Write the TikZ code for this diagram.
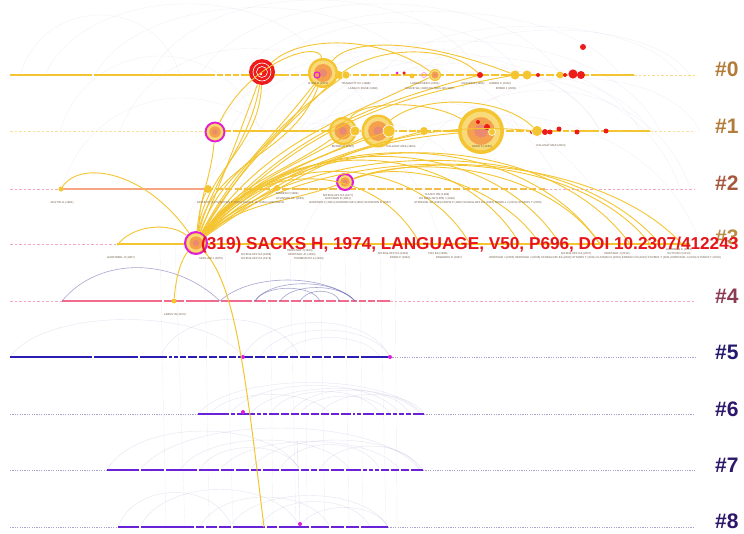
\documentclass[tikz,border=0pt]{standalone}
\usepackage{fontspec}
\setmainfont{Liberation Sans}
\definecolor{gold}{HTML}{F4C531}
\definecolor{goldL}{HTML}{F8DA78}
\definecolor{nodeO}{HTML}{F5A04C}
\definecolor{nodeP}{HTML}{EA8A72}
\definecolor{salm}{HTML}{F6A585}
\definecolor{pinkL}{HTML}{F26B8E}
\definecolor{pinkD}{HTML}{F4A8BA}
\definecolor{blueL}{HTML}{2B1DB3}
\definecolor{purpL}{HTML}{6A22D8}
\definecolor{dotL}{HTML}{A9A2CC}
\definecolor{mag}{HTML}{E11BDA}
\definecolor{redN}{HTML}{EE1B1B}
\definecolor{faintP}{HTML}{C2A6D8}
\definecolor{faintB}{HTML}{6A6AB4}
\definecolor{labA}{HTML}{B27B37}
\definecolor{labB}{HTML}{A6583C}
\definecolor{labC}{HTML}{B88C42}
\definecolor{labD}{HTML}{8D3B53}
\definecolor{labE}{HTML}{22196E}
\definecolor{labF}{HTML}{2D1669}
\definecolor{tinyC}{HTML}{6F5B48}
\definecolor{sacksR}{HTML}{E8141B}
\tikzset{
  tl/.style={line width=2.6pt},
  tlthin/.style={line width=0.7pt, dash pattern=on 2.5pt off 2pt},
  tldot/.style={line width=0.8pt, draw=dotL, dash pattern=on 1.2pt off 1.2pt},
  clab/.style={font=\fontsize{21}{21}\selectfont\bfseries, anchor=west, inner sep=0pt},
  tinyl/.style={font=\fontsize{2.8}{3.2}\selectfont, text=tinyC, inner sep=0pt},
  cite/.style={circle, inner sep=0pt, fill=gold, minimum size=#1, path picture={
      \fill[goldL] (path picture bounding box.center) circle ({0.42*#1});
      \fill[nodeO] (path picture bounding box.center) circle ({0.3*#1});
      \fill[nodeP] (path picture bounding box.center) circle ({0.14*#1});}},
  dotn/.style={circle, inner sep=0pt, fill=gold, minimum size=#1},
  redn/.style={circle, inner sep=0pt, fill=redN, minimum size=#1},
  magn/.style={circle, inner sep=0pt, fill=mag, minimum size=#1},
  ya/.style={draw=gold, line width=0.9pt},
  fa/.style={draw=faintP, line width=0.4pt, opacity=0.16},
  fb/.style={draw=faintB, line width=0.45pt, opacity=0.16},
  fb4/.style={draw=faintB, line width=0.6pt, opacity=0.6},
  gap/.style={fill=white},
}
\begin{document}
\begin{tikzpicture}[x=1pt,y=-1pt]
\fill[white] (0,0) rectangle (744,533);
\useasboundingbox (0,0) rectangle (744,533);

% ---------- faint background arcs (upper) ----------
\foreach \a/\b/\y/\h in {45/330/75/95, 95/420/75/90, 150/480/75/100, 200/560/75/95, 240/620/75/85,
  260/660/131/120, 215/600/131/110, 300/640/131/100, 330/680/188/150, 280/560/188/120,
  230/520/131/95, 120/380/131/110, 62/300/188/120, 250/470/188/90, 350/650/131/80,
  400/690/188/130, 180/440/243/160, 210/620/243/190, 300/700/243/170, 420/690/75/60,
  460/700/131/70, 60/260/131/100, 20/180/75/80, 270/520/75/70, 320/600/131/90, 380/680/75/65}{
  \draw[fa] (\a,\y) .. controls ({\a+(\b-\a)*0.15},{\y-\h}) and ({\b-(\b-\a)*0.15},{\y-\h}) .. (\b,\y);
}
% ---------- faint background arcs (lower) ----------
\foreach \a/\b/\y/\h in {10/243/357/50, 160/300/357/50, 243/390/357/46, 260/390/357/36, 280/380/357/26,
  198/422/414/42, 230/400/414/38, 250/420/414/34, 270/380/414/30, 290/410/414/32, 210/330/414/26, 300/390/414/24, 320/424/414/26,
  107/300/470/52, 140/420/470/56, 180/350/470/40, 220/400/470/38, 250/423/470/40, 200/300/470/30, 280/380/470/34, 320/420/470/32,
  118/232/527/46, 140/300/527/50, 200/330/527/40, 230/388/527/42, 260/370/527/34, 300/388/527/26}{
  \draw[fb] (\a,\y) .. controls ({\a+(\b-\a)*0.15},{\y-\h}) and ({\b-(\b-\a)*0.15},{\y-\h}) .. (\b,\y);
}
\foreach \x/\d in {160/6, 175/10, 205/4, 225/8, 270/3, 290/6, 305/2, 320/5, 345/4, 360/3, 380/6, 395/2}{
  \draw[fa] (\x,245) -- (\x+\d,527);
}

% ---------- timeline coordinates ----------
\coordinate (a0) at (10,75);  \coordinate (b0) at (634,75);  \coordinate (c0) at (695,75);
\coordinate (a1) at (10,131); \coordinate (m1) at (205,131); \coordinate (b1) at (650,131); \coordinate (c1) at (695,131);
\coordinate (a2) at (10,189); \coordinate (m2) at (61,189);  \coordinate (k2) at (206,189); \coordinate (b2) at (545,189); \coordinate (c2) at (695,189);
\coordinate (a3) at (10,244); \coordinate (m3) at (118,244); \coordinate (b3) at (690,244);
\coordinate (a4) at (10,301); \coordinate (m4) at (62,301);  \coordinate (b4) at (390,301); \coordinate (c4) at (695,301);
\coordinate (a5) at (10,357); \coordinate (b5) at (390,357); \coordinate (c5) at (695,357);
\coordinate (a6) at (10,414); \coordinate (m6) at (198,414); \coordinate (b6) at (424,414); \coordinate (c6) at (695,414);
\coordinate (a7) at (10,470); \coordinate (m7) at (107,470); \coordinate (b7) at (423,470); \coordinate (c7) at (695,470);
\coordinate (a8) at (10,527); \coordinate (m8) at (118,527); \coordinate (b8) at (388,527); \coordinate (c8) at (695,527);

% ---------- timelines ----------
\draw[tl, draw=gold, line width=2.8pt] (a0) -- (b0);
\draw[tlthin, draw=gold, opacity=0.6] (b0) -- (c0);
\draw[tlthin, draw=gold, opacity=0.5] (a1) -- (m1);
\draw[tl, draw=gold, line width=2.8pt] (m1) -- (b1);
\draw[tlthin, draw=gold, opacity=0.5] (b1) -- (c1);
\draw[tlthin, draw=pinkD] (a2) -- (m2);
\draw[tl, draw=salm] (m2) -- (k2);
\draw[tl, draw=gold!70!salm, dash pattern=on 7pt off 2.5pt] (k2) -- (b2);
\draw[tlthin, draw=pinkD] (b2) -- (c2);
\draw[tlthin, draw=pinkD] (a3) -- (m3);
\draw[tl, draw=gold] (m3) -- (b3);
\draw[tlthin, draw=pinkD] (a4) -- (m4);
\draw[tl, draw=pinkL] (m4) -- (b4);
\draw[tlthin, draw=pinkD] (b4) -- (c4);
\draw[tl, draw=blueL, line width=2.8pt] (a5) -- (b5);
\draw[tldot] (b5) -- (c5);
\draw[tldot] (a6) -- (m6);
\draw[tl, draw=purpL] (m6) -- (b6);
\draw[tldot] (b6) -- (c6);
\draw[tldot] (a7) -- (m7);
\draw[tl, draw=purpL] (m7) -- (b7);
\draw[tldot] (b7) -- (c7);
\draw[tldot] (a8) -- (m8);
\draw[tl, draw=purpL] (m8) -- (b8);
\draw[tldot] (b8) -- (c8);

% gaps in the timelines
\foreach \x in {93,216,224,232,240,290,300,352,360,368,380,390,402,418,445,455,465,490,500,545,555,590,600}
  \fill[gap] (\x-0.8,72) rectangle (\x+0.8,78);
\foreach \x in {232,300,310,320,362,398,408,416,432,442,505,515,525,562,570,590,600,620}
  \fill[gap] (\x-0.8,128) rectangle (\x+0.8,134);
\foreach \x in {163,185,220,253,267,278,290,302,313,325,337,350,358,367,376}
  \fill[gap] (\x-0.9,298) rectangle (\x+0.9,304);
\foreach \x in {93,139,168,173,179,187,198,208,218,228,237,254,266,277,289,299,311,323,332,346,360}
  \fill[gap] (\x-0.8,354) rectangle (\x+0.8,360);
\foreach \x in {230,236,256,262,268,280,290,300,310,320,330,340,352,356,362,375,385,392,398,405,412}
  \fill[gap] (\x-0.8,411) rectangle (\x+0.8,417);
\foreach \x in {140,165,198,220,235,250,262,280,300,310,318,330,345,362,368,374,380,390,400,410}
  \fill[gap] (\x-0.8,467) rectangle (\x+0.8,473);
\foreach \x in {140,195,205,218,232,266,278,310,330,345,360}
  \fill[gap] (\x-0.8,524) rectangle (\x+0.8,530);

% ---------- blue arcs on #4 ----------
\coordinate (p4a) at (220,301);
\coordinate (p4b) at (355,301);
\coordinate (p4c) at (255,301);
\coordinate (p4d) at (280,301);
\coordinate (p4e) at (300,301);
\coordinate (p4f) at (340,301);
\coordinate (p4g) at (320,301);
\draw[fb4] (m4) .. controls (100,255) and (175,258) .. (p4a);
\draw[fb4] (p4a) .. controls (250,273) and (325,273) .. (p4b);
\draw[fb4] (p4c) .. controls (270,278) and (335,278) .. (p4b);
\draw[fb4] (p4d) .. controls (292,283) and (340,283) .. (p4b);
\draw[fb4] (p4e) .. controls (308,288) and (333,288) .. (p4f);
\draw[fb4] (p4c) .. controls (265,284) and (312,284) .. (p4g);

% ---------- nodes ----------
% #0
\node[redn=26pt] (n0a) at (262,72) {};
\draw[white, line width=0.6pt] (n0a) circle (9pt);
\draw[white, line width=0.6pt] (n0a) circle (5.5pt);
\fill[white] (261,74) circle (1.3pt);
\node[cite=30pt] (n0b) at (323,73) {};
\node[circle, draw=mag, line width=1.1pt, minimum size=6pt, inner sep=0pt] (n0bm) at (317,75) {};
\node[dotn=8pt] (n0c) at (339,75) {};
\node[dotn=8pt, draw=white, line width=0.5pt] (n0d) at (346,75) {};
\node[magn=3pt] (n0m) at (397,73) {};
\node[redn=3.5pt] (n0r1) at (404,73) {};
\node[dotn=5pt] (n0f) at (412,76) {};
\node[circle, draw=mag!50, line width=0.6pt, minimum size=5pt, inner sep=0pt] (n0g) at (424,75) {};
\node[cite=12pt] (n0e) at (435,75) {};
\node[redn=6pt] (n0r2) at (480,75) {};
\node[dotn=9pt] (n0h) at (515,75) {};
\node[dotn=9pt] (n0i) at (527,75) {};
\node[redn=4pt] (n0r3) at (538,75) {};
\node[dotn=7pt] (n0j) at (560,75) {};
\node[redn=4pt] (n0r4) at (565,75) {};
\node[redn=10pt, draw=white, line width=0.5pt] (n0r5) at (573,74) {};
\node[redn=8pt] (n0r6) at (581,75) {};
\node[redn=6pt] (n0r7) at (583,47) {};
\foreach \x in {220,228,236,244,356,364,372,388,452,470,498,548,600}
  \fill[gold] (\x,75) circle (1.4pt);

% #1
\node[cite=19pt, draw=mag, line width=1.8pt] (n1a) at (215,132) {};
\node[cite=28pt] (n1b) at (343,131) {};
\node[dotn=10pt, draw=white, line width=0.6pt] (n1b2) at (355,131) {};
\node[cite=33pt] (n1c) at (378,131) {};
\node[dotn=12pt, draw=white, line width=0.6pt] (n1c2) at (389,131) {};
\node[dotn=8pt] (n1d) at (424,131) {};
\node[cite=46pt] (n1e) at (481,131) {};
\node[redn=6pt] (n1r1) at (487,127) {};
\node[redn=4pt] (n1r0) at (478,122) {};
\node[dotn=7pt, draw=white, line width=0.6pt] (n1e2) at (492,132) {};
\node[redn=4pt] (n1r2) at (532,132) {};
\node[dotn=11pt, draw=white, line width=0.6pt] (n1f) at (537,131) {};
\node[redn=6pt] (n1r3) at (545,132) {};
\node[redn=5pt] (n1r4) at (550,132) {};
\node[redn=5pt] (n1r5) at (559,129) {};
\node[redn=5pt] (n1r6) at (577,132) {};
\node[redn=5pt] (n1r7) at (606,131) {};
\foreach \x in {300,310,405,415,437,447,512,520,590,620}
  \fill[gold] (\x,131) circle (1.4pt);

% #2
\node[dotn=5pt] (n2a) at (61,189) {};
\node[dotn=8pt] (n2b) at (208,189) {};
\node[dotn=6pt] (n2c) at (277,188) {};
\node[cite=16pt, draw=mag, line width=2pt] (n2d) at (345,182) {};
\foreach \x in {245,252,262,300,310,320,330,360,372,385}
  \fill[gold] (\x,189) circle (1.3pt);

% #3, #4 and below
\node[dotn=3pt] (n3g) at (118,244) {};
\node[dotn=5pt] (n4l) at (174,301) {};
\node[magn=4pt] (n5a) at (243,357) {};
\node[magn=4pt] (n5b) at (390,357) {};
\node[magn=4pt] (n6a) at (243,412) {};
\node[magn=4pt] (n8a) at (300,524) {};
\coordinate (n8y) at (264,527);
\coordinate (n8u) at (297,440);

% ---------- yellow arcs ----------
\node[cite=22pt, draw=mag, line width=2pt] (S) at (196,243) {};
\draw[ya] (n2a) .. controls (80,160) and (145,170) .. (S);
\draw[ya] (n3g) .. controls (135,225) and (170,222) .. (S);
\draw[ya] (n4l) .. controls (176,275) and (182,258) .. (S);
\draw[ya, line width=1pt] (S) .. controls (236,285) and (246,380) .. (n8y);
\draw[fa, opacity=0.4] (n8a) -- (n8u);
\foreach \t/\o/\i in {n0a/75/260, n0a/68/250, n0a/82/268, n0b/70/240, n0b/62/232, n0b/78/250,
   n0c/60/225, n0d/58/215, n0e/55/205, n0r2/50/195, n0h/48/190,
   n1a/85/265, n1b/55/215, n1b2/50/210, n1c/50/205, n1c2/45/200, n1d/42/195, n1e/38/185, n1f/35/175,
   n2b/80/240, n2c/45/210, n2d/40/200}{
  \draw[ya] (S) to[out=\o,in=\i] (\t);
}
% long arcs to later #3 nodes
\foreach \x/\h in {420/85, 470/95, 520/110, 560/115, 600/120, 630/120, 660/110, 682/105}{
  \coordinate (r\x) at (\x,244);
  \draw[ya] (S) .. controls ({196+(\x-196)*0.25},{244-\h}) and ({\x-(\x-196)*0.2},{244-\h}) .. (r\x);
}
% arcs from the #2 node to the right
\foreach \x/\h in {540/60, 600/75, 650/80}{
  \coordinate (s\x) at (\x,244);
  \draw[ya] (n2d) .. controls ({345+(\x-345)*0.3},{182-\h*0.4}) and ({\x-(\x-345)*0.2},{244-\h}) .. (s\x);
}
% arcs above #0 and #1
\draw[ya] (n0b) .. controls (350,38) and (420,38) .. (n0h);
\draw[ya] (n0a) .. controls (300,35) and (380,35) .. (n0e);
\draw[ya] (n0c) .. controls (380,45) and (450,45) .. (n0r2);
\draw[ya] (n1a) .. controls (250,60) and (320,40) .. (n0b);
\draw[ya] (n1b) .. controls (360,100) and (430,100) .. (n1e);
\draw[ya] (n1c) .. controls (420,95) and (500,95) .. (n1f);

% ---------- small labels ----------
\node[tinyl] (t01) at (318,84) {SLIWA R (1971)};
\node[tinyl] (t02) at (356,84) {TRAUGOTT EC (1988)};
\node[tinyl] (t03) at (363,88.5) {LANGVI / RUSE (1999)};
\node[tinyl] (t04) at (425,84) {LANGACKER R (2004)};
\node[tinyl] (t05) at (430,88.5) {CHAFE WL (1980) DU BOIS JW (1987)};
\node[tinyl] (t06) at (473,84) {FRASER B (1990)};
\node[tinyl] (t07) at (500,84) {AIJMER K (2002)};
\node[tinyl] (t08) at (506,88.5) {BYBEE J (2005)};
\node[tinyl] (t11) at (343,147) {BROWN P (1987)};
\node[tinyl] (t12) at (401,147) {HALLIDAY MAK (1994)};
\node[tinyl] (t13) at (482,147) {GEER C (1984)};
\node[tinyl] (t14) at (551,146) {HALLIDAY MAK (2004)};
\node[tinyl] (t21) at (62,203) {AUSTIN JL (1962)};
\node[tinyl] (t22) at (208,203) {GRICE HP (1975)};
\node[tinyl] (t23) at (252,202.5) {BROWN P (1978) SEARLE JR (1969) GOFFMAN E};
\node[tinyl] (t24) at (287,194) {TANNEN D (1989)};
\node[tinyl] (t25) at (290,198.5) {LEVINSON SC (1983)};
\node[tinyl] (t26) at (338,195.5) {SCHEGLOFF EA (1977)};
\node[tinyl] (t27) at (338,199) {GOFFMAN E (1981)};
\node[tinyl] (t28) at (350,202.5) {GOODWIN C (1981) GOODWIN MH (1990) SCHIFFRIN D (1987)};
\node[tinyl] (t29) at (437,195) {TLAANT RM (1999)};
\node[tinyl] (t2a) at (437,198.5) {DU BOIS JW (1985) / (1999)};
\node[tinyl] (t2b) at (478,202.5) {ATKINSON JM (1984) DREW P (1992) SCHEGLOFF EA (1996) SIDNELL J (2010) STIVERS T (2005)};
\node[tinyl] (t31) at (121,258) {GARFINKEL H (1967)};
\node[tinyl] (t32) at (211,259) {SINCLAIR J (1975)};
\node[tinyl] (t33) at (256,255) {SCHEGLOFF EA (1968)};
\node[tinyl] (t34) at (256,258.7) {SCHEGLOFF EA (1979)};
\node[tinyl] (t35) at (300,250.6) {HERITAGE J (1984)};
\node[tinyl] (t36) at (302,254.9) {HERITAGE JC (1984)};
\node[tinyl] (t37) at (309,259.2) {POMERANTZ A (1984)};
\node[tinyl] (t38) at (393,254) {SCHEGLOFF EA (1992)};
\node[tinyl] (t39) at (400,258) {DREW P (1992)};
\node[tinyl] (t3a) at (438,254) {FOX BA (1996)};
\node[tinyl] (t3b) at (449,258) {EDWARDS D (1997)};
\node[tinyl] (t3c) at (576,254) {SCHEGLOFF EA (2007)};
\node[tinyl] (t3d) at (617,254) {HERITAGE J (2012)};
\node[tinyl] (t3e) at (679,249.7) {LIBERMAN K (2013)};
\node[tinyl] (t3f) at (679,254) {SUTTON D (2013)};
\node[tinyl] (t3g) at (605,258) {HERITAGE J (2005) HERITAGE J (2006) SCHEGLOFF EA (2000) STIVERS T (2011) CLAYMAN S (2010) ENFIELD NJ (2010) STIVERS T (2011) HERITAGE J (2013) STIVERS T (2016)};
\node[tinyl] (t41) at (175,315) {LABOV W (1972)};

% ---------- cluster labels ----------
\node[clab, text=labA] (k0) at (715,69) {\#0};
\node[clab, text=labA] (k1) at (715,126) {\#1};
\node[clab, text=labB] (k2) at (715,183) {\#2};
\node[clab, text=labC] (k3) at (715,237) {\#3};
\node[clab, text=labD] (k4) at (715,296) {\#4};
\node[clab, text=labE] (k5) at (715,352) {\#5};
\node[clab, text=labF] (k6) at (715,409) {\#6};
\node[clab, text=labF] (k7) at (715,465) {\#7};
\node[clab, text=labF] (k8) at (715,521) {\#8};

% ---------- highlighted reference ----------
\node[anchor=base west, inner sep=0pt, text=sacksR, font=\fontsize{17.2}{18}\selectfont\bfseries] (stext) at (201,249.5) {(319) SACKS H, 1974, LANGUAGE, V50, P696, DOI 10.2307/412243};
\end{tikzpicture}
\end{document}
